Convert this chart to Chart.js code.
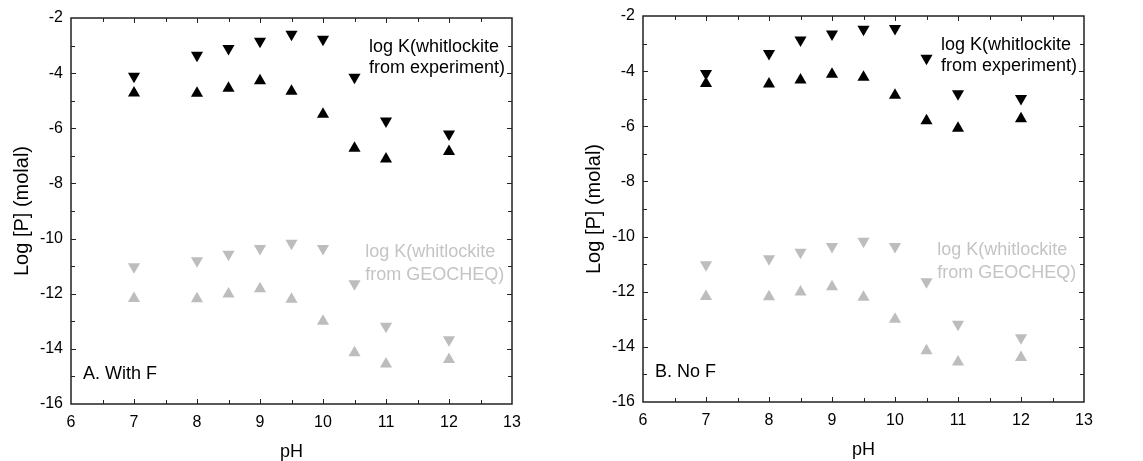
<!DOCTYPE html>
<html>
<head>
<meta charset="utf-8">
<script src="https://cdn.jsdelivr.net/npm/chart.js@4"></script>
<style>
  html, body { margin: 0; padding: 0; background: #fff; }
  body { width: 1143px; height: 461px; position: relative; overflow: hidden; }
  .panel { position: absolute; width: 570px; height: 461px; }
  #panelA { left: 0; top: 0; }
  #panelB { left: 572px; top: -2px; }
</style>
</head>
<body>
<div class="panel" id="panelA"><canvas id="chartA"></canvas></div>
<div class="panel" id="panelB"><canvas id="chartB"></canvas></div>
<script>
// pH values shared by every series
var phValues = [7, 8, 8.5, 9, 9.5, 10, 10.5, 11, 12];

// A. With F  (experiment)
var withFDown = [-4.11, -3.35, -3.11, -2.84, -2.59, -2.77, -4.15, -5.74, -6.21];
var withFUp = [-4.72, -4.73, -4.55, -4.28, -4.66, -5.49, -6.72, -7.11, -6.84];

// B. No F  (experiment)
var noFDown = [-4.09, -3.36, -2.87, -2.65, -2.48, -2.45, -3.53, -4.82, -4.99];
var noFUp = [-4.45, -4.47, -4.32, -4.11, -4.22, -4.87, -5.80, -6.07, -5.73];

// GEOCHEQ, same in both panels
var geoDown = [-11.02, -10.80, -10.57, -10.36, -10.17, -10.36, -11.64, -13.18, -13.67];
var geoUp = [-12.17, -12.18, -12.01, -11.82, -12.20, -13.00, -14.14, -14.55, -14.39];

var xTicks = [6, 7, 8, 9, 10, 11, 12, 13];
var yTicks = [-16, -14, -12, -10, -8, -6, -4, -2];

var FONT = "'Liberation Sans', Arial, Helvetica, sans-serif";
var BLACK = '#000000';
var GREY = '#bdbdbd';
var GREY_TEXT = '#c4c4c4';
var AXIS = '#222222';

function toPoints(ys) {
    return phValues.map(function(x, i) { return { x: x, y: ys[i] }; });
}

function markerSet(ys, color, down) {
    return {
        data: toPoints(ys),
        pointStyle: 'triangle',
        rotation: down ? 180 : 0,
        pointRadius: 7,
        pointHoverRadius: 7,
        backgroundColor: color,
        borderColor: color,
        borderWidth: 0,
        showLine: false,
        clip: false
    };
}

// frame, inward ticks and the text notes
var framePlugin = {
    id: 'frame',
    afterDraw: function(chart, args, opts) {
        var ctx = chart.ctx;
        var a = chart.chartArea;
        var xs = chart.scales.x;
        var ys = chart.scales.y;
        ctx.save();
        ctx.strokeStyle = AXIS;
        ctx.lineWidth = 1.5;
        ctx.strokeRect(a.left, a.top, a.right - a.left, a.bottom - a.top);

        ctx.lineWidth = 1;
        ctx.beginPath();
        for (var v = 6.5; v < 13; v += 0.5) {
            var px = Math.round(xs.getPixelForValue(v)) + 0.5;
            var len = (v % 1 === 0) ? 5 : 4;
            ctx.moveTo(px, a.bottom); ctx.lineTo(px, a.bottom - len);
            ctx.moveTo(px, a.top); ctx.lineTo(px, a.top + len);
        }
        for (var w = -15; w < -2; w += 1) {
            var py = Math.round(ys.getPixelForValue(w)) + 0.5;
            var l2 = (w % 2 === 0) ? 5 : 4;
            ctx.moveTo(a.left, py); ctx.lineTo(a.left + l2, py);
            ctx.moveTo(a.right, py); ctx.lineTo(a.right - l2, py);
        }
        ctx.stroke();

        ctx.textBaseline = 'middle';
        ctx.textAlign = 'left';
        ctx.font = '18px ' + FONT;
        opts.notes.forEach(function(n) {
            ctx.fillStyle = n.color;
            ctx.fillText(n.text, xs.getPixelForValue(n.x), ys.getPixelForValue(n.y));
        });
        ctx.restore();
    }
};

function makeChart(canvasId, downVals, upVals, panelLabel) {
    var ctx = document.getElementById(canvasId).getContext('2d');
    return new Chart(ctx, {
        type: 'scatter',
        data: {
            datasets: [
                markerSet(downVals, BLACK, true),
                markerSet(upVals, BLACK, false),
                markerSet(geoDown, GREY, true),
                markerSet(geoUp, GREY, false)
            ]
        },
        options: {
            responsive: true,
            maintainAspectRatio: false,
            animation: false,
            events: [],
            layout: { padding: { top: 18, right: 58, bottom: 0, left: 0 } },
            plugins: {
                legend: { display: false },
                tooltip: { enabled: false },
                frame: {
                    notes: [
                        { text: 'log K(whitlockite', x: 10.73, y: -3.06, color: BLACK },
                        { text: 'from experiment)', x: 10.73, y: -3.82, color: BLACK },
                        { text: 'log K(whitlockite', x: 10.67, y: -10.49, color: GREY_TEXT },
                        { text: 'from GEOCHEQ)', x: 10.67, y: -11.32, color: GREY_TEXT },
                        { text: panelLabel, x: 6.19, y: -14.9, color: BLACK }
                    ]
                }
            },
            scales: {
                x: {
                    type: 'linear',
                    min: 6,
                    max: 13,
                    afterFit: function(scale) { scale.height = 57; },
                    afterBuildTicks: function(scale) {
                        scale.ticks = xTicks.map(function(v) { return { value: v }; });
                    },
                    grid: { display: false, drawTicks: false },
                    border: { display: false },
                    ticks: {
                        padding: 9,
                        color: '#000',
                        maxRotation: 0,
                        font: { family: FONT, size: 16 }
                    },
                    title: {
                        display: true,
                        text: 'pH',
                        color: '#000',
                        padding: { top: 0, bottom: 0 },
                        font: { family: FONT, size: 18, lineHeight: 1 }
                    }
                },
                y: {
                    type: 'linear',
                    min: -16,
                    max: -2,
                    afterFit: function(scale) { scale.width = 71; },
                    afterBuildTicks: function(scale) {
                        scale.ticks = yTicks.map(function(v) { return { value: v }; });
                    },
                    grid: { display: false, drawTicks: false },
                    border: { display: false },
                    ticks: {
                        padding: 8,
                        color: '#000',
                        font: { family: FONT, size: 16 }
                    },
                    title: {
                        display: true,
                        text: 'Log [P] (molal)',
                        color: '#000',
                        padding: { top: 10, bottom: 0 },
                        font: { family: FONT, size: 20 }
                    }
                }
            }
        },
        plugins: [framePlugin]
    });
}

makeChart('chartA', withFDown, withFUp, 'A. With F');
makeChart('chartB', noFDown, noFUp, 'B. No F');
</script>
</body>
</html>
